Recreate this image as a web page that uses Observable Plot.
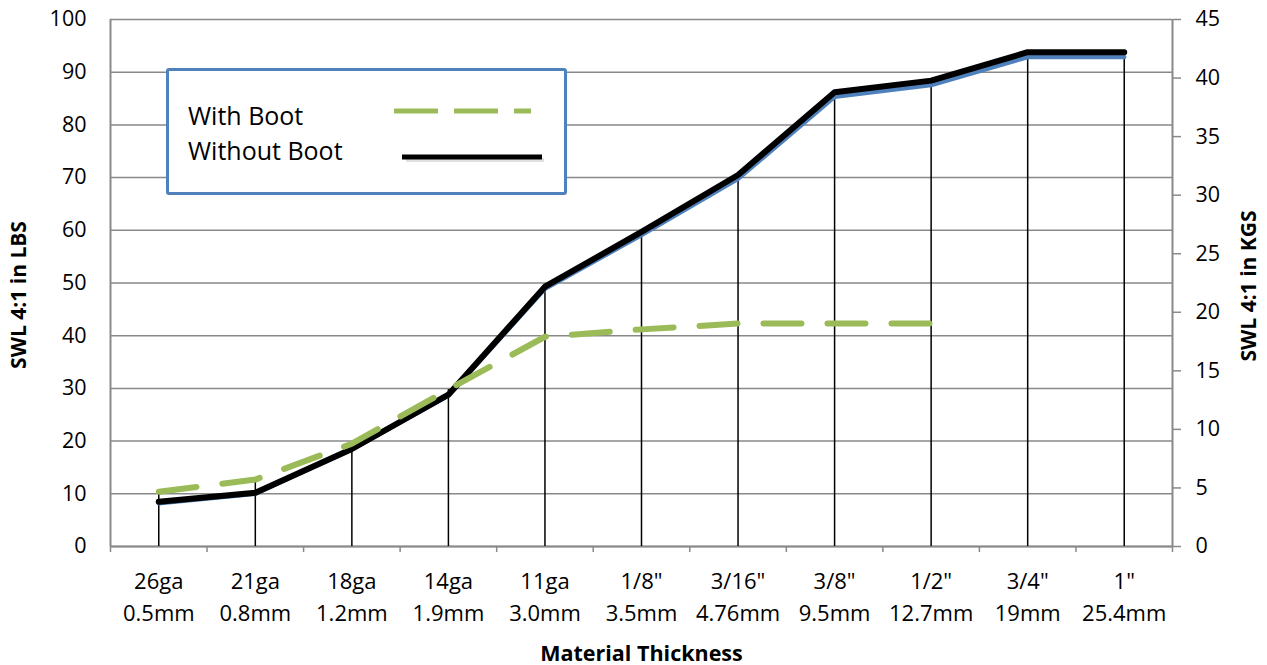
<!DOCTYPE html>
<html>
<head>
<meta charset="utf-8">
<script src="https://cdn.jsdelivr.net/npm/d3@7"></script>
<script src="https://cdn.jsdelivr.net/npm/@observablehq/plot@0.6"></script>
<style>
  html, body { margin: 0; padding: 0; background: #fff; }
  #wrap { position: relative; width: 1267px; height: 665px; font-family: "Open Sans", sans-serif; }
  #legend { position: absolute; left: 166px; top: 68px; width: 395px; height: 121px;
            border: 3.5px solid #4F81BD; border-radius: 3px; background: #fff; }
  #legend .t { position: absolute; left: 19px; font-size: 25px; color: #000; line-height: 1; white-space: nowrap; }
  #legend svg { position: absolute; left: 0; top: 0; }
</style>
</head>
<body>
<div id="wrap"></div>
<script>
const gauges = ["26ga", "21ga", "18ga", "14ga", "11ga", "1/8\"", "3/16\"", "3/8\"", "1/2\"", "3/4\"", "1\""];
const metric = ["0.5mm", "0.8mm", "1.2mm", "1.9mm", "3.0mm", "3.5mm", "4.76mm", "9.5mm", "12.7mm", "19mm", "25.4mm"];
const withoutBootLbs = [8.5, 10.2, 18.5, 28.8, 49.3, 59.7, 70.5, 86.2, 88.4, 93.8, 93.8];
const withoutBootKgs = [3.7, 4.5, 8.3, 12.9, 22.0, 26.6, 31.4, 38.4, 39.4, 41.8, 41.8];
const withBootLbs = [10.4, 12.7, 19.5, 29.8, 39.8, 41.2, 42.3, 42.3, 42.3, null, null];
const lbsTicks = [0, 10, 20, 30, 40, 50, 60, 70, 80, 90, 100];
const kgsTicks = [0, 5, 10, 15, 20, 25, 30, 35, 40, 45];
const lbsMax = 100, kgsMax = 45;

const toLbsAxis = k => k * lbsMax / kgsMax;
const toKgsAxis = v => v * kgsMax / lbsMax;

const idx = d3.range(gauges.length);
const rows = idx.map(i => ({
  i,
  label: gauges[i] + "\n" + metric[i],
  lbs: withoutBootLbs[i],
  kgsOnLbs: toLbsAxis(withoutBootKgs[i]),
  boot: withBootLbs[i],
  top: d3.max([withoutBootLbs[i], withBootLbs[i], toLbsAxis(withoutBootKgs[i])])
}));
const bootRows = rows.filter(r => r.boot != null);
const xDomain = [-0.5, gauges.length - 0.5];
const bounds = d3.range(gauges.length + 1).map(i => i - 0.5);
const gray = "#898989";

const chart = Plot.plot({
  width: 1267,
  height: 665,
  marginLeft: 110,
  marginRight: 95,
  marginTop: 19,
  marginBottom: 119,
  style: { fontFamily: "Open Sans, sans-serif", background: "#fff", color: "#000" },
  x: { type: "linear", domain: xDomain, axis: null, label: null },
  y: { domain: [0, lbsMax], axis: null, label: null },
  marks: [
    Plot.gridY(lbsTicks, { stroke: gray, strokeOpacity: 1, strokeWidth: 1.5 }),
    Plot.ruleX([xDomain[0]], { stroke: gray, strokeWidth: 2 }),
    Plot.ruleX([xDomain[1]], { stroke: gray, strokeWidth: 2 }),
    Plot.ruleY([0], { stroke: gray, strokeWidth: 2 }),
    Plot.axisX({ ticks: bounds, tickSize: 6, tickFormat: () => "", stroke: gray, strokeWidth: 1.5, label: null }),
    Plot.axisX({ ticks: idx, tickSize: 0, tickPadding: 20, tickFormat: i => rows[i].label,
                 fontSize: 22, lineHeight: 1.45, fill: "#000", label: null }),
    Plot.axisY({ ticks: lbsTicks, anchor: "left", tickSize: 0, tickPadding: 24, fontSize: 21.5, label: null, fill: "#000" }),
    Plot.axisY({ ticks: kgsTicks.map(toLbsAxis), anchor: "right", tickSize: 8, tickPadding: 15,
                 tickFormat: v => Math.round(toKgsAxis(v)), stroke: gray, strokeWidth: 1.5,
                 fontSize: 21.5, label: null, fill: "#000" }),
    Plot.ruleX(rows, { x: "i", y1: 0, y2: "top", stroke: "#000", strokeWidth: 1.5 }),
    Plot.line(rows, { x: "i", y: "kgsOnLbs", stroke: "#4F81BD", strokeWidth: 4.5, strokeLinejoin: "round" }),
    Plot.line(rows, { x: "i", y: "lbs", stroke: "#000", strokeWidth: 6, strokeLinejoin: "round", strokeLinecap: "round" }),
    Plot.line(bootRows, { x: "i", y: "boot", stroke: "#9BBB59", strokeWidth: 6, strokeDasharray: "38,26",
                          strokeLinecap: "round", strokeLinejoin: "round" }),
    Plot.text(["SWL 4:1 in LBS"], { frameAnchor: "left", textAnchor: "middle", dx: -91, dy: 12, rotate: -90,
                                    fontSize: 21, fontWeight: "bold", fill: "#000" }),
    Plot.text(["SWL 4:1 in KGS"], { frameAnchor: "right", textAnchor: "middle", dx: 77, dy: 3, rotate: -90,
                                    fontSize: 21, fontWeight: "bold", fill: "#000" }),
    Plot.text(["Material Thickness"], { frameAnchor: "bottom", textAnchor: "middle", dy: 114, fontSize: 21.5,
                                        fontWeight: "bold", fill: "#000" })
  ]
});

const wrap = document.getElementById("wrap");
wrap.appendChild(chart);

const legend = document.createElement("div");
legend.id = "legend";
legend.innerHTML = `
  <div class="t" style="top:32px">With Boot</div>
  <div class="t" style="top:67px">Without Boot</div>
  <svg width="395" height="121">
    <line x1="225" x2="362" y1="40" y2="40" stroke="#9BBB59" stroke-width="5" stroke-dasharray="44,16"/>
    <line x1="237" x2="375" y1="89" y2="89" stroke="#ccc" stroke-width="4" opacity="0.6"/>
    <line x1="233" x2="373" y1="86" y2="86" stroke="#000" stroke-width="5"/>
  </svg>`;
wrap.appendChild(legend);
</script>
</body>
</html>
